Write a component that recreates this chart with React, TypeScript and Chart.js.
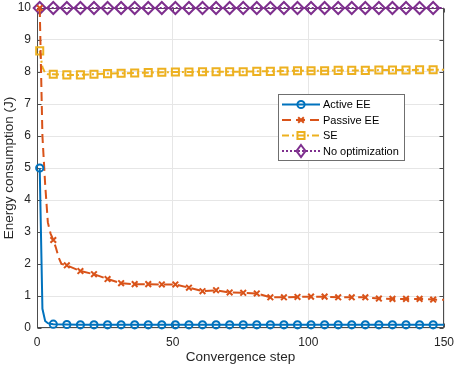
import React, { useEffect, useRef } from "react";
import { Chart, registerables } from "chart.js";

Chart.register(...registerables);

// ---------- data ----------
const xTicks = [0, 50, 100, 150];
const yTicks = [0, 1, 2, 3, 4, 5, 6, 7, 8, 9, 10];
const seriesLabels = ["Active EE", "Passive EE", "SE", "No optimization"];

const activeSteps = [1, 2, 3, 4, 5, 6, 11, 16, 21, 26, 31, 36, 41, 46, 51, 56, 61, 66, 71, 76, 81, 86, 91, 96, 101, 106, 111, 116, 121, 126, 131, 136, 141, 146, 150];
const activeValues = [5, 0.6, 0.22, 0.15, 0.13, 0.12, 0.11, 0.1, 0.1, 0.1, 0.1, 0.1, 0.1, 0.1, 0.1, 0.1, 0.1, 0.1, 0.1, 0.1, 0.1, 0.1, 0.1, 0.1, 0.1, 0.1, 0.1, 0.1, 0.1, 0.1, 0.1, 0.1, 0.1, 0.1, 0.1];

const passiveSteps = [1, 2, 3, 4, 5, 6, 7, 8, 9, 11, 16, 21, 26, 31, 36, 41, 46, 51, 56, 61, 66, 71, 76, 81, 86, 91, 96, 101, 106, 111, 116, 121, 126, 131, 136, 141, 146, 150];
const passiveValues = [10, 6.0, 4.5, 3.3, 2.95, 2.75, 2.5, 2.2, 2.0, 1.96, 1.78, 1.68, 1.53, 1.4, 1.37, 1.37, 1.36, 1.36, 1.26, 1.15, 1.18, 1.11, 1.1, 1.08, 0.96, 0.96, 0.97, 0.98, 0.98, 0.96, 0.96, 0.96, 0.92, 0.91, 0.91, 0.91, 0.89, 0.88];

const seSteps = [1, 2, 3, 4, 6, 11, 16, 21, 26, 31, 36, 41, 46, 51, 56, 61, 66, 71, 76, 81, 86, 91, 96, 101, 106, 111, 116, 121, 126, 131, 136, 141, 146, 150];
const seValues = [8.66, 8.15, 7.97, 7.93, 7.93, 7.91, 7.91, 7.93, 7.95, 7.96, 7.97, 7.98, 7.99, 8.0, 8.0, 8.01, 8.01, 8.01, 8.01, 8.02, 8.02, 8.03, 8.04, 8.04, 8.04, 8.05, 8.05, 8.05, 8.06, 8.06, 8.06, 8.07, 8.07, 8.07];

const noOptSteps = [1, 6, 11, 16, 21, 26, 31, 36, 41, 46, 51, 56, 61, 66, 71, 76, 81, 86, 91, 96, 101, 106, 111, 116, 121, 126, 131, 136, 141, 146, 150];
const noOptValues = [10, 10, 10, 10, 10, 10, 10, 10, 10, 10, 10, 10, 10, 10, 10, 10, 10, 10, 10, 10, 10, 10, 10, 10, 10, 10, 10, 10, 10, 10, 10];

// ---------- styles ----------
const FONT = '"Liberation Sans", Arial, Helvetica, sans-serif';
const colors = ["#0072BD", "#D95319", "#EDB120", "#7E2F8E"];
const dashes: number[][] = [[], [9, 5], [7, 3, 2, 3], [2, 2]];
const markerStyles = ["circle", "crossRot", "rect", "rectRot"];
const markerRadius = [3.6, 4, 5, 6];

const toPoints = (xs: number[], ys: number[]) => xs.map((x, i) => ({ x, y: ys[i] }));
const isMarker = (x: number) => (x - 1) % 5 === 0 && x <= 146;

function drawMarker(ctx: CanvasRenderingContext2D, style: string, cx: number, cy: number, r: number) {
  ctx.beginPath();
  if (style === "circle") {
    ctx.arc(cx, cy, r, 0, Math.PI * 2);
  } else if (style === "crossRot") {
    const d = r * Math.SQRT1_2;
    ctx.moveTo(cx - d, cy - d); ctx.lineTo(cx + d, cy + d);
    ctx.moveTo(cx - d, cy + d); ctx.lineTo(cx + d, cy - d);
  } else if (style === "rect") {
    const s = r * Math.SQRT1_2;
    ctx.rect(cx - s, cy - s, 2 * s, 2 * s);
  } else {
    ctx.moveTo(cx, cy - r); ctx.lineTo(cx + r * 0.75, cy); ctx.lineTo(cx, cy + r); ctx.lineTo(cx - r * 0.75, cy); ctx.closePath();
  }
  ctx.stroke();
}

const framePlugin = {
  id: "matlabFrame",
  beforeDatasetsDraw(chart: any) {
    const { ctx, chartArea } = chart;
    const xs = chart.scales.x, ys = chart.scales.y;
    const L = Math.round(chartArea.left) + 0.5, R = Math.round(chartArea.right) - 0.5;
    const T = Math.round(chartArea.top) + 0.5, B = Math.round(chartArea.bottom) - 0.5;
    ctx.save();
    ctx.strokeStyle = "#4d4d4d";
    ctx.lineWidth = 1;
    ctx.setLineDash([]);
    ctx.strokeRect(L, T, R - L, B - T);
    const tl = 4;
    ctx.beginPath();
    xTicks.forEach((v) => {
      const px = Math.round(xs.getPixelForValue(v)) + 0.5;
      ctx.moveTo(px, B); ctx.lineTo(px, B - tl);
      ctx.moveTo(px, T); ctx.lineTo(px, T + tl);
    });
    yTicks.forEach((v) => {
      const py = Math.round(ys.getPixelForValue(v)) + 0.5;
      ctx.moveTo(L, py); ctx.lineTo(L + tl, py);
      ctx.moveTo(R, py); ctx.lineTo(R - tl, py);
    });
    ctx.stroke();
    ctx.restore();
  },
  afterDraw(chart: any) {
    const { ctx } = chart;
    const bx = 278.5, by = 94.5, bw = 126, bh = 66;
    ctx.save();
    ctx.fillStyle = "#ffffff";
    ctx.fillRect(bx, by, bw, bh);
    ctx.strokeStyle = "#6f6f6f";
    ctx.lineWidth = 1;
    ctx.setLineDash([]);
    ctx.strokeRect(bx, by, bw, bh);
    const rowY = [104.5, 120, 135.5, 151];
    seriesLabels.forEach((label, i) => {
      const y = rowY[i];
      ctx.strokeStyle = colors[i];
      ctx.lineWidth = 2;
      ctx.setLineDash(dashes[i]);
      ctx.beginPath();
      ctx.moveTo(282, y);
      ctx.lineTo(320, y);
      ctx.stroke();
      ctx.setLineDash([]);
      ctx.lineWidth = 2;
      drawMarker(ctx, markerStyles[i], 301, y, markerRadius[i]);
      ctx.fillStyle = "#000000";
      ctx.font = `11px ${FONT}`;
      ctx.textBaseline = "middle";
      ctx.textAlign = "left";
      ctx.fillText(label, 323, y + 0.5);
    });
    ctx.restore();
  },
};

export default function App() {
  const canvasRef = useRef<HTMLCanvasElement | null>(null);

  useEffect(() => {
    const canvas = canvasRef.current;
    if (!canvas) return;
    const seriesData = [
      toPoints(activeSteps, activeValues),
      toPoints(passiveSteps, passiveValues),
      toPoints(seSteps, seValues),
      toPoints(noOptSteps, noOptValues),
    ];
    const chart = new Chart(canvas, {
      type: "line",
      data: {
        datasets: seriesData.map((data, i) => ({
          label: seriesLabels[i],
          data,
          borderColor: colors[i],
          borderWidth: 2,
          borderDash: dashes[i],
          backgroundColor: "rgba(0,0,0,0)",
          pointStyle: markerStyles[i] as any,
          pointRadius: (c: any) => (isMarker(c.raw.x) ? markerRadius[i] : 0),
          pointBorderWidth: 2,
          pointBorderColor: colors[i],
          pointBackgroundColor: "rgba(0,0,0,0)",
          pointHoverRadius: 0,
          tension: 0,
          clip: false as any,
          fill: false,
        })),
      },
      plugins: [framePlugin],
      options: {
        animation: false,
        responsive: false,
        events: [],
        layout: { padding: { top: 7, right: 12, left: 0, bottom: 0 } },
        plugins: { legend: { display: false }, tooltip: { enabled: false }, title: { display: false } },
        scales: {
          x: {
            type: "linear",
            min: 0,
            max: 150,
            afterBuildTicks: (s: any) => { s.ticks = xTicks.map((v) => ({ value: v })); },
            afterFit: (s: any) => { s.height = 40; s.paddingLeft = 0; s.paddingRight = 0; },
            grid: { color: "#e6e6e6", lineWidth: 1, drawTicks: false },
            border: { display: false },
            ticks: { color: "#262626", font: { family: FONT, size: 12 }, padding: 7, maxRotation: 0 },
            title: { display: true, text: "Convergence step", color: "#262626", font: { family: FONT, size: 13.5 }, padding: { top: 0, bottom: 3 } },
          },
          y: {
            type: "linear",
            min: 0,
            max: 10,
            afterBuildTicks: (s: any) => { s.ticks = yTicks.map((v) => ({ value: v })); },
            afterFit: (s: any) => { s.width = 37; s.paddingTop = 0; s.paddingBottom = 0; },
            grid: { color: "#e6e6e6", lineWidth: 1, drawTicks: false },
            border: { display: false },
            ticks: { color: "#262626", font: { family: FONT, size: 12 }, padding: 6 },
            title: { display: true, text: "Energy consumption (J)", color: "#262626", font: { family: FONT, size: 13.5 }, padding: { top: 1, bottom: 0 } },
          },
        },
      },
    });
    return () => chart.destroy();
  }, []);

  return (
    <div style={{ position: "fixed", left: 0, top: 0, width: 456, height: 368, background: "#ffffff" }}>
      <canvas ref={canvasRef} width={456} height={368} style={{ width: 456, height: 368 }} />
    </div>
  );
}
